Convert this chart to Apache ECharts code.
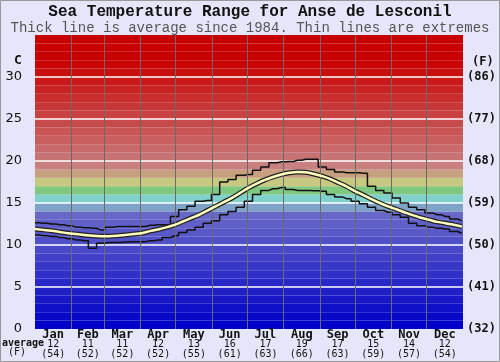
<!DOCTYPE html>
<html>
<head>
<meta charset="utf-8">
<script src="https://cdn.jsdelivr.net/npm/echarts@6/dist/echarts.min.js"></script>
<style>
  body { margin: 0; background: #e6e6fa; }
  #chart { width: 500px; height: 362px; }
</style>
</head>
<body>
<div id="chart"></div>
<script>
// months and their labels
var months = ["Jan", "Feb", "Mar", "Apr", "May", "Jun", "Jul", "Aug", "Sep", "Oct", "Nov", "Dec"];
var monthAvgC = [12, 11, 11, 12, 13, 16, 17, 19, 17, 15, 14, 12];
var monthAvgF = [54, 52, 52, 52, 55, 61, 63, 66, 63, 59, 57, 54];
var monthStart = [0, 31, 59, 90, 120, 151, 181, 212, 243, 273, 304, 334, 365];

// sample days (day of year)
var days = [0, 7, 14, 21, 28, 35, 42, 49, 56, 63, 70, 77, 84, 91, 98, 105, 112, 119, 126, 133,
  140, 147, 154, 161, 168, 175, 182, 189, 196, 203, 210, 217, 224, 231, 238, 245, 252, 259,
  266, 273, 280, 287, 294, 301, 308, 315, 322, 329, 336, 343, 350, 357, 364];

// temperatures in C
var avgTemp = [11.9, 11.8, 11.7, 11.55, 11.4, 11.3, 11.2, 11.1, 11.05, 11.05, 11.1, 11.2, 11.3, 11.4,
  11.65, 11.85, 12.1, 12.4, 12.8, 13.2, 13.6, 14.1, 14.6, 15.1, 15.6, 16.2, 16.8, 17.3, 17.75,
  18.1, 18.4, 18.6, 18.7, 18.65, 18.45, 18.2, 17.85, 17.4, 16.95, 16.4, 15.95, 15.45, 15.0,
  14.6, 14.25, 13.9, 13.55, 13.25, 13.0, 12.75, 12.6, 12.4, 12.2];
var maxTemp = [12.65, 12.6, 12.5, 12.4, 12.3, 12.1, 12.05, 12.0, 11.8, 12.1, 12.2, 12.2, 12.2, 12.2,
  12.35, 12.4, 12.4, 13.4, 14.2, 14.6, 15.2, 15.3, 16.0, 17.5, 17.8, 18.3, 18.4, 18.9, 19.3,
  19.8, 19.9, 19.95, 20.1, 20.2, 20.2, 19.3, 19.0, 18.7, 18.6, 18.6, 18.55, 17.0, 16.5, 16.2,
  15.6, 15.0, 14.5, 14.2, 13.8, 13.6, 13.4, 13.1, 12.9];
var minTemp = [11.2, 11.1, 11.0, 10.9, 10.75, 10.6, 10.5, 9.6, 10.2, 10.3, 10.3, 10.35, 10.4, 10.4,
  10.5, 10.6, 10.9, 11.1, 11.5, 11.8, 12.1, 12.6, 12.9, 13.6, 14.0, 14.5, 15.2, 16.0, 16.5,
  16.7, 16.85, 16.6, 16.5, 16.5, 16.45, 16.4, 16.0, 15.7, 15.5, 15.2, 14.9, 14.5, 14.1, 13.9,
  13.6, 13.3, 12.6, 12.3, 12.1, 12.0, 11.9, 11.6, 11.4];

// one colour band per degree, 0..35
var bandColors = [];
for (var i = 0; i < 35; i++) {
  var c;
  if (i < 14) c = "rgb(" + i * 8 + "," + i * 8 + ",200)";
  else if (i == 14) c = "#7ea2c8";
  else if (i == 15) c = "#80d0cc";
  else if (i == 16) c = "#80c880";
  else if (i == 17) c = "#c8c880";
  else if (i == 18) c = "#c8a080";
  else if (i == 19) c = "#c88080";
  else {
    var g = Math.max(0, 115 - (i - 20) * 10);
    c = "rgb(" + (i % 2 ? 202 : 200) + "," + g + "," + g + ")";
  }
  bandColors.push(c);
}

function pairs(vals) {
  return days.map(function (d, k) { return [d, vals[k]]; });
}

var mids = [];
for (var m = 0; m < 12; m++) mids.push((monthStart[m] + monthStart[m + 1]) / 2);

var chart = echarts.init(document.getElementById("chart"));
chart.setOption({
  animation: false,
  backgroundColor: "#e6e6fa",
  title: [
    {
      text: "Sea Temperature Range for Anse de Lesconil",
      left: "center", top: 4, padding: 0,
      textStyle: { fontFamily: "Liberation Mono", fontWeight: "bold", fontSize: 16, color: "#111" }
    },
    {
      text: "Thick line is average since 1984. Thin lines are extremes",
      left: "center", top: 21, padding: 0,
      textStyle: { fontFamily: "Liberation Mono", fontWeight: "normal", fontSize: 14, color: "#555" }
    }
  ],
  grid: { left: 35, right: 37, top: 35, bottom: 33 },
  xAxis: {
    type: "value", min: 0, max: 365,
    axisLine: { show: false }, axisTick: { show: false }, splitLine: { show: false },
    axisLabel: {
      customValues: mids,
      margin: 1,
      formatter: function (v) {
        var k = mids.indexOf(v);
        return "{m|" + months[k] + "}\n{n|" + monthAvgC[k] + "}\n{n|(" + monthAvgF[k] + ")}";
      },
      rich: {
        m: { fontFamily: "DejaVu Sans Mono", fontWeight: "bold", fontSize: 12, lineHeight: 10, color: "#111" },
        n: { fontFamily: "DejaVu Sans Mono", fontSize: 10, lineHeight: 9.5, color: "#111" }
      }
    }
  },
  yAxis: [
    {
      type: "value", min: 0, max: 35, interval: 5,
      axisLine: { show: false }, axisTick: { show: false },
      axisLabel: { showMaxLabel: false, margin: 13, fontFamily: "DejaVu Sans", fontSize: 13, color: "#111" },
      splitLine: { show: true, showMinLine: false, showMaxLine: false, lineStyle: { color: "#ffffff", width: 1.5 } },
      z: 1
    },
    {
      type: "value", min: 0, max: 35, interval: 5, position: "right",
      axisLine: { show: false }, axisTick: { show: false }, splitLine: { show: false },
      axisLabel: {
        showMaxLabel: false, margin: 4,
        fontFamily: "DejaVu Sans Mono", fontWeight: "bold", fontSize: 12, color: "#111",
        formatter: function (v) { return "(" + Math.round(v * 9 / 5 + 32) + ")"; }
      }
    },
    {
      // helper axis for the 1 degree colour bands
      type: "value", min: 0, max: 35, interval: 1,
      axisLine: { show: false }, axisTick: { show: false }, axisLabel: { show: false },
      splitLine: { show: false },
      splitArea: { show: true, areaStyle: { color: bandColors, opacity: 1 } },
      z: 0
    }
  ],
  graphic: [
    { type: "text", left: 14, top: 54, style: { text: "C", font: "bold 13px DejaVu Sans Mono", fill: "#111" } },
    { type: "text", left: 472, top: 56, style: { text: "(F)", font: "bold 12px DejaVu Sans Mono", fill: "#111" } },
    { type: "text", left: 2, top: 338, style: { text: "average", font: "bold 10px DejaVu Sans Mono", fill: "#111" } },
    { type: "text", left: 8, top: 347, style: { text: "(F)", font: "10px DejaVu Sans Mono", fill: "#111" } },
    { type: "rect", silent: true, shape: { x: 0.5, y: 0.5, width: 499, height: 361 }, style: { fill: "none", stroke: "#999" } }
  ],
  series: [
    {
      // month divider lines
      type: "line", data: [], z: 2, silent: true,
      markLine: {
        symbol: "none", silent: true, label: { show: false },
        lineStyle: { color: "#6a6a6a", width: 1, type: "solid" },
        data: monthStart.slice(1, 12).map(function (d) { return { xAxis: d }; })
      }
    },
    {
      name: "max", type: "line", data: pairs(maxTemp), step: "middle", showSymbol: false, z: 3,
      lineStyle: { color: "#111", width: 1.5 }
    },
    {
      name: "min", type: "line", data: pairs(minTemp), step: "middle", showSymbol: false, z: 3,
      lineStyle: { color: "#111", width: 1.5 }
    },
    {
      name: "avg outline", type: "line", data: pairs(avgTemp), smooth: 0.3, showSymbol: false, z: 4,
      lineStyle: { color: "#222", width: 5 }
    },
    {
      name: "avg", type: "line", data: pairs(avgTemp), smooth: 0.3, showSymbol: false, z: 5,
      lineStyle: { color: "#ffffc0", width: 2.5 }
    }
  ]
});
</script>
</body>
</html>
